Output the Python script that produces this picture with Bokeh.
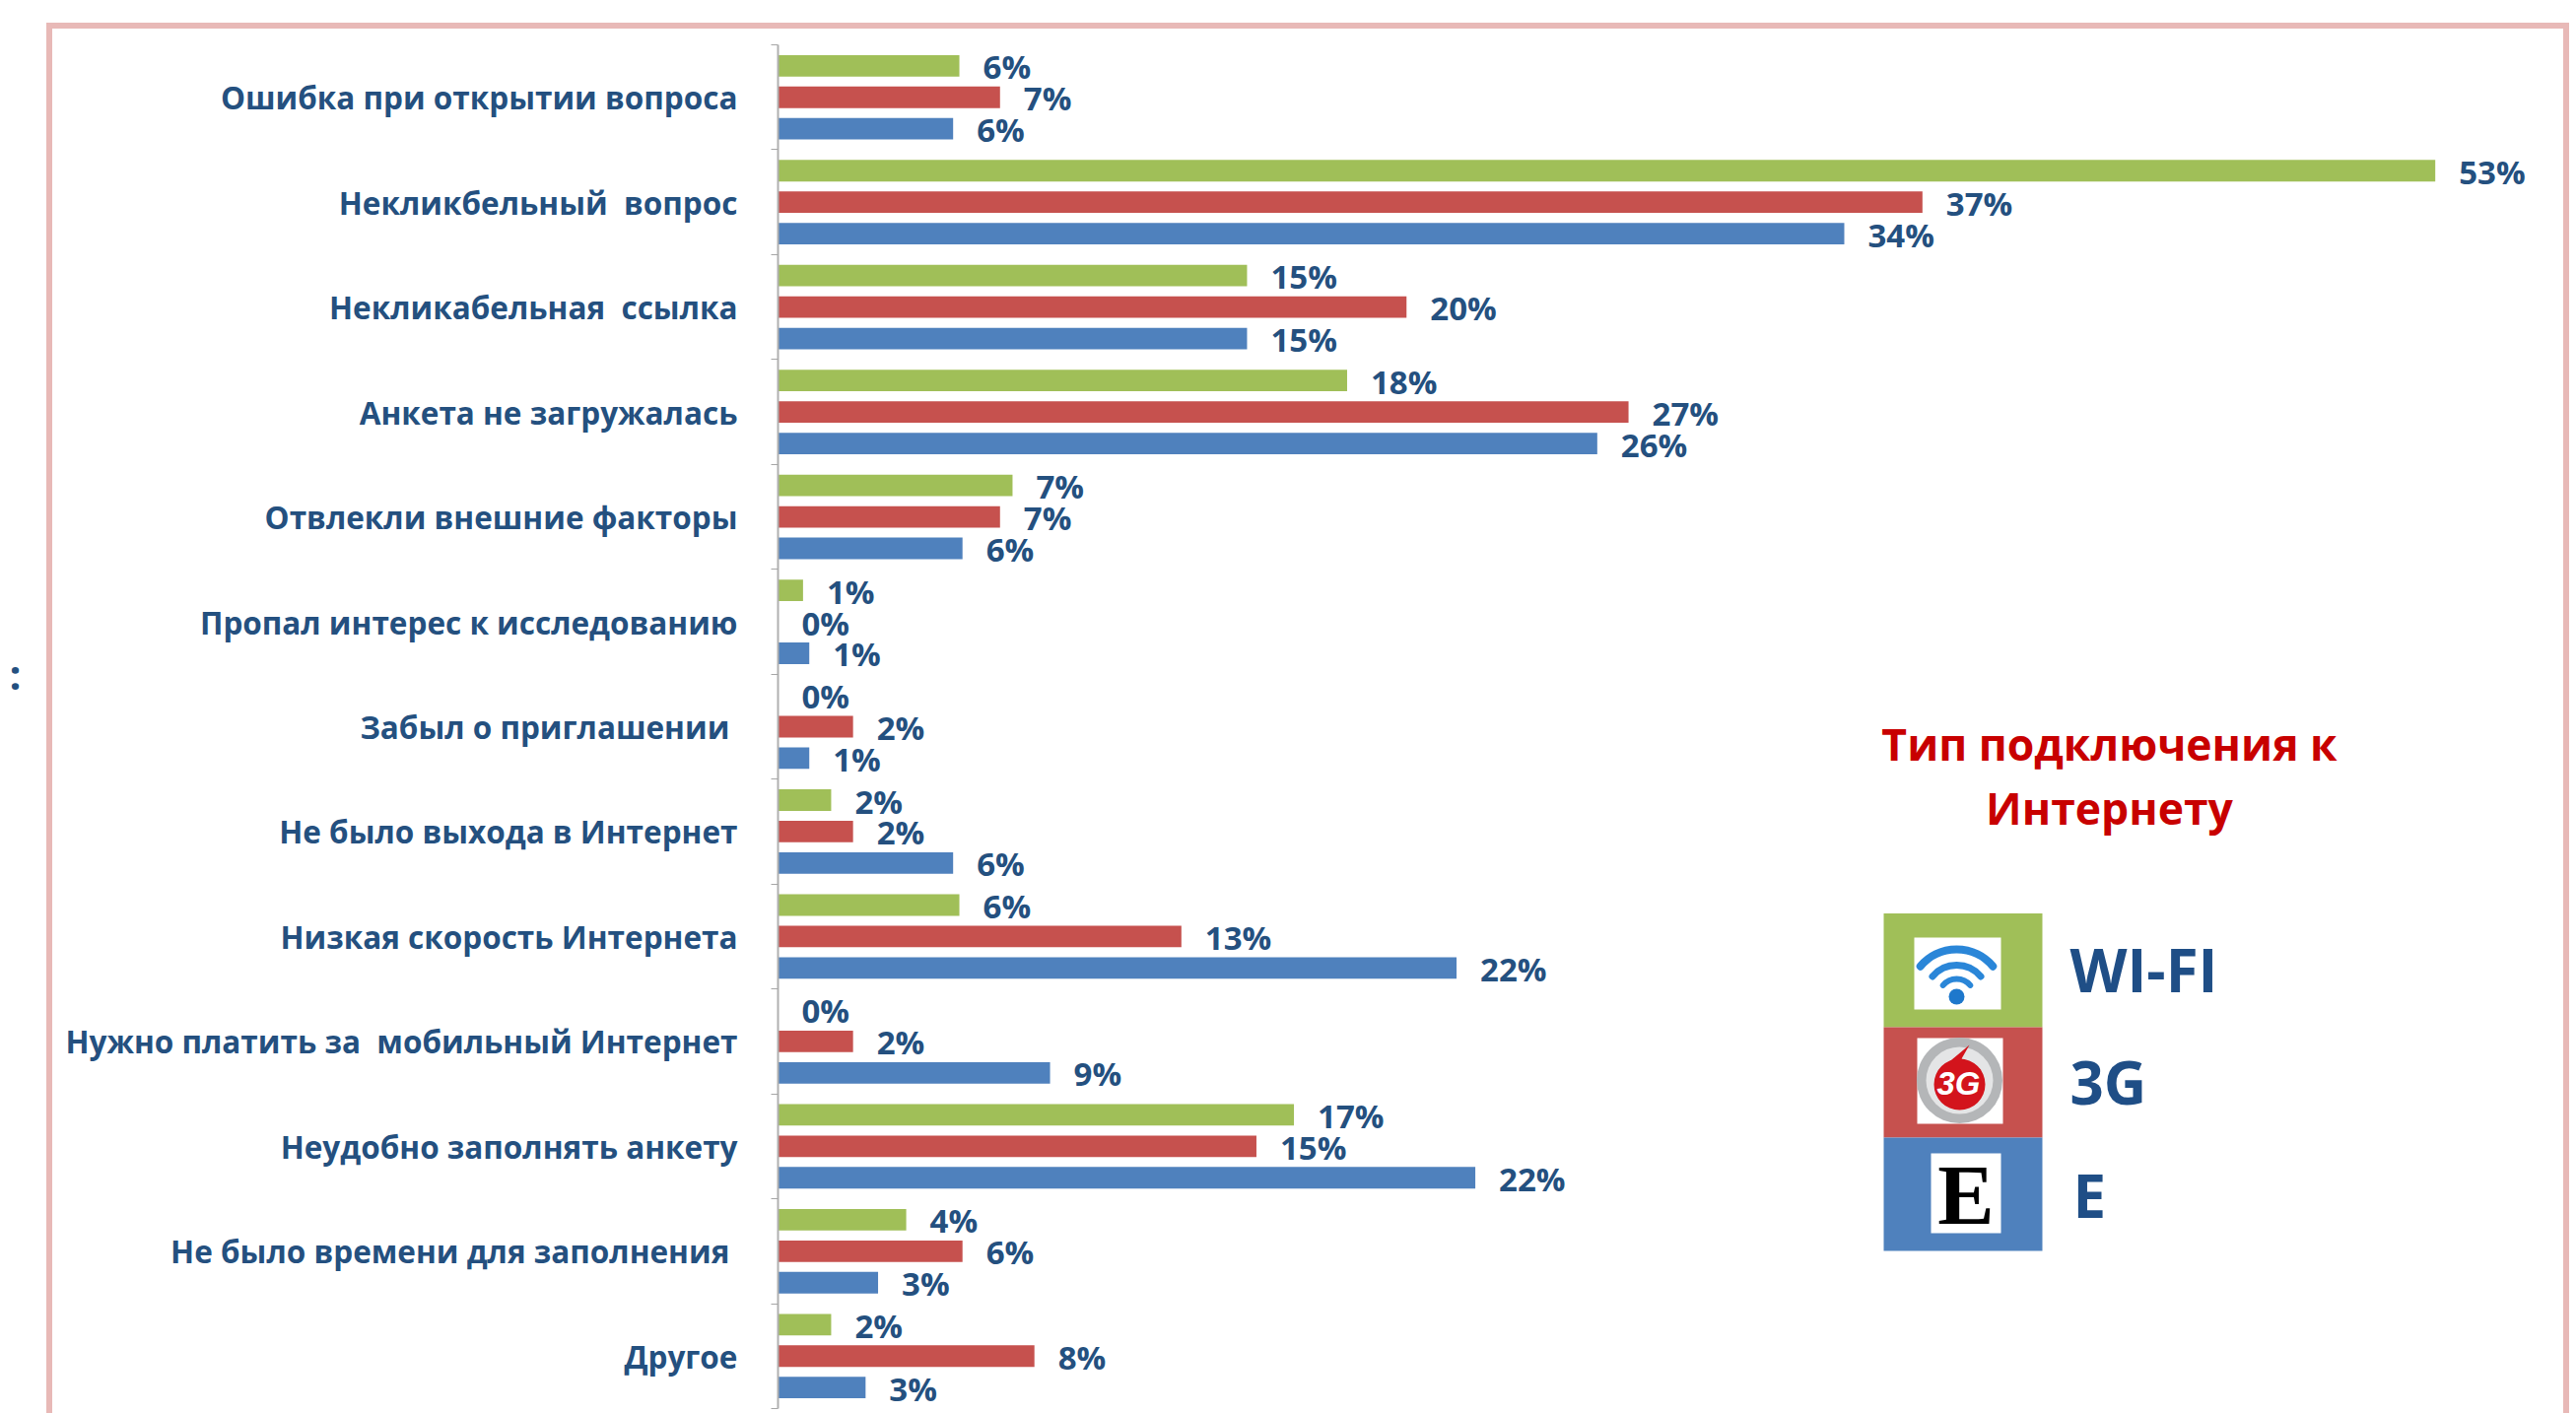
import math
import numpy as np
from bokeh.core.properties import value
from bokeh.embed import file_html
from bokeh.models import ColumnDataSource, FixedTicker, InlineStyleSheet, LinearAxis, Range1d
from bokeh.plotting import figure
from bokeh.resources import INLINE

categories = [
    "Ошибка при открытии вопроса", "Некликбельный \u00a0вопрос", "Некликабельная \u00a0ссылка",
    "Анкета не загружалась", "Отвлекли внешние факторы", "Пропал интерес к исследованию",
    "Забыл о приглашении\u00a0", "Не было выхода в Интернет", "Низкая скорость Интернета",
    "Нужно платить за \u00a0мобильный Интернет", "Неудобно заполнять анкету",
    "Не было времени для заполнения\u00a0", "Другое",
]
wifi = [5.8, 53.0, 15.0, 18.2, 7.5, 0.8, 0.0, 1.7, 5.8, 0.0, 16.5, 4.1, 1.7]
g3 = [7.1, 36.6, 20.1, 27.2, 7.1, 0.0, 2.4, 2.4, 12.9, 2.4, 15.3, 5.9, 8.2]
edge = [5.6, 34.1, 15.0, 26.2, 5.9, 1.0, 1.0, 5.6, 21.7, 8.7, 22.3, 3.2, 2.8]
wifi_labels = [6, 53, 15, 18, 7, 1, 0, 2, 6, 0, 17, 4, 2]
g3_labels = [7, 37, 20, 27, 7, 0, 2, 2, 13, 2, 15, 6, 8]
edge_labels = [6, 34, 15, 26, 6, 1, 1, 6, 22, 9, 22, 3, 3]
series_names = ["WI-FI", "3G", "E"]
legend_title = ["Тип подключения к", "Интернету"]
GREEN, RED, BLUE = "#A0BF58", "#C6514E", "#4F81BD"
NAVY = "#24507F"
FONT = value("Open Sans")

M = 0                      # page px where the canvas starts
W, H = 2614, 1434
AX, XS = 789.0, 31.73      # page px of x=0, px per percent
Y0, YS = 45.0, 106.46      # page px of y=0, px per category

def X(px):
    return (px - AX) / XS

def Y(py):
    return (py - Y0) / YS

n = len(categories)
centers = [i + 0.5 for i in range(n)]
boundaries = list(range(n + 1))

# pink frame, open at the bottom of the picture; it also runs left of the plot area
frame_css = InlineStyleSheet(css="""
:host { position: relative; }
:host::before {
  content: ""; position: absolute; box-sizing: border-box; z-index: 10; pointer-events: none;
  left: 47px; top: 23px; width: 2560px; height: 1411px;
  border: 6.5px solid #E8B9B7; border-bottom: none;
}
""")

p = figure(width=W, height=H, output_backend="svg", toolbar_location=None,
           x_range=Range1d(0, X(M + W)), y_range=Range1d(Y(M + H), Y(M)),
           min_border_left=int(AX - M), min_border_right=0, min_border_top=0, min_border_bottom=0,
           x_axis_location=None, background_fill_color="white", border_fill_color="white",
           stylesheets=[frame_css])
p.outline_line_color = None
p.grid.visible = False

ax = p.yaxis[0]
ax.ticker = FixedTicker(ticks=centers, minor_ticks=boundaries)
ax.major_label_overrides = {c: t for c, t in zip(centers, categories)}
ax.bounds = (0, n)
ax.major_tick_out = 0
ax.major_tick_in = 0
ax.minor_tick_out = 7
ax.minor_tick_in = 0
ax.minor_tick_line_color = "#a6a6a6"
ax.axis_line_color = "#b0b0b0"
ax.axis_line_width = 2
ax.major_label_standoff = 34
ax.major_label_text_font = "Open Sans"
ax.major_label_text_font_style = "bold"
ax.major_label_text_font_size = "31.5px"
ax.major_label_text_color = NAVY

# clipped word end at the far left of the picture, drawn as the label of a bare axis;
# the empty second line lifts it above the middle of the plot
colon_axis = LinearAxis(ticker=FixedTicker(ticks=[]), axis_line_color=None,
                        major_tick_line_color=None, minor_tick_line_color=None,
                        axis_label=":\n ", axis_label_orientation="horizontal", axis_label_standoff=42,
                        axis_label_text_font="Open Sans", axis_label_text_font_style="bold",
                        axis_label_text_font_size="42px", axis_label_text_color=NAVY)
p.add_layout(colon_axis, "left")

for vals, labels, off, col in [(wifi, wifi_labels, -0.30, GREEN),
                               (g3, g3_labels, 0.0, RED),
                               (edge, edge_labels, 0.30, BLUE)]:
    ys = [c + off for c in centers]
    src = ColumnDataSource(dict(y=ys, v=vals, t=[f"{l}%" for l in labels]))
    p.hbar(y="y", right="v", left=0, height=0.205, source=src, fill_color=col, line_color=None)
    p.text(x="v", y="y", text="t", source=src, x_offset=24, y_offset=1, text_align="left",
           text_baseline="middle", text_font=FONT, text_font_style="bold",
           text_font_size="33px", text_color=NAVY)

# legend title
p.text(x=[X(2140)] * 2, y=[Y(754), Y(819)], text=legend_title, text_align="center", text_baseline="middle",
       text_font=FONT, text_font_style="bold", text_font_size="44.5px", text_color="#C80000")

# legend swatches and icons
p.quad(left=[X(1911)] * 3, right=[X(2072)] * 3, top=[Y(926.5), Y(1042), Y(1154)],
       bottom=[Y(1042), Y(1154), Y(1269)], fill_color=[GREEN, RED, BLUE], line_color=None)
p.quad(left=[X(1942), X(1945), X(1959)], right=[X(2030), X(2032), X(2030)],
       top=[Y(951), Y(1053), Y(1170)], bottom=[Y(1024), Y(1140), Y(1251)],
       fill_color="white", line_color=None)

# wi-fi icon
for r, lw in [(48, 8), (32, 7), (18, 6)]:
    p.arc(x=[X(1985)], y=[Y(1011)], radius=r, radius_units="screen",
          start_angle=math.radians(40), end_angle=math.radians(140),
          line_color="#2A86D8", line_width=lw, line_cap="round")
p.scatter(x=[X(1985)], y=[Y(1011)], size=16, marker="circle", fill_color="#1E78CC", line_color=None)

# 3G icon
p.scatter(x=[X(1988)], y=[Y(1096)], size=87, marker="circle", fill_color="#B4B6B8", line_color=None)
p.scatter(x=[X(1988)], y=[Y(1096)], size=68, marker="circle", fill_color="#E4E5E6", line_color=None)
p.scatter(x=[X(1988)], y=[Y(1100)], size=52, marker="circle", fill_color="#D3141C", line_color=None)
p.patch(x=[X(1968), X(1998), X(1990), X(2010)], y=[Y(1085), Y(1060), Y(1074), Y(1085)],
        fill_color="#D3141C", line_color=None)
p.text(x=[X(1987)], y=[Y(1099)], text=["3G"], text_align="center", text_baseline="middle",
       text_font=value("Liberation Sans"), text_font_style="bold italic", text_font_size="33px", text_color="white")

# E icon
p.text(x=[X(1994.5)], y=[Y(1212)], text=["E"], text_align="center", text_baseline="middle",
       text_font=value("Liberation Serif"), text_font_style="bold", text_font_size="86px", text_color="black")

# legend names
p.text(x=[X(2100), X(2100), X(2103)], y=[Y(983), Y(1097), Y(1212)], text=series_names,
       text_align="left", text_baseline="middle", text_font=FONT, text_font_style="bold",
       text_font_size="60px", text_color="#1F4E86")

open("out.html", "w").write(file_html(p, INLINE))
